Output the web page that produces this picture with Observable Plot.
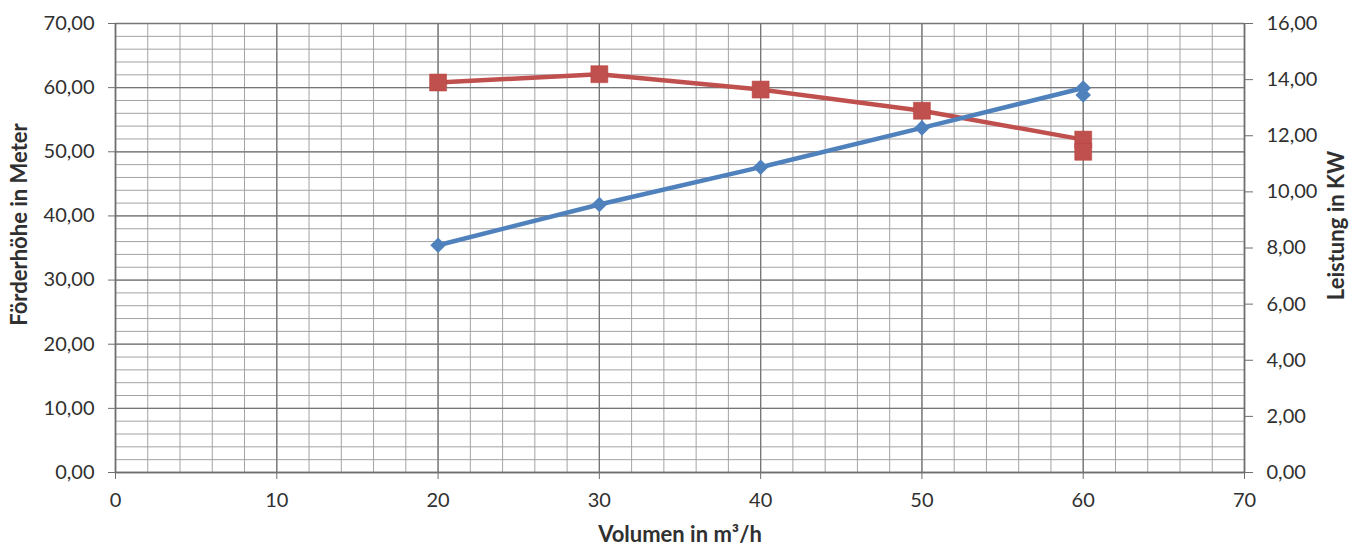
<!DOCTYPE html>
<html>
<head>
<meta charset="utf-8">
<script src="https://cdn.jsdelivr.net/npm/d3@7"></script>
<script src="https://cdn.jsdelivr.net/npm/@observablehq/plot@0.6"></script>
<style>
  html, body { margin: 0; padding: 0; background: #fff; }
  #chart { width: 1352px; height: 547px; }
</style>
</head>
<body>
<div id="chart"></div>
<script>
// Data
const volume = [20, 30, 40, 50, 60, 60];
const foerderhoehe = [60.8, 62.1, 59.7, 56.4, 51.9, 50.0];   // left axis (m)
const leistung = [8.1, 9.55, 10.88, 12.28, 13.7, 13.45];      // right axis (kW)

const xTicks = [0, 10, 20, 30, 40, 50, 60, 70];
const yLeftTicks = [0, 10, 20, 30, 40, 50, 60, 70];
const yRightTicks = [0, 2, 4, 6, 8, 10, 12, 14, 16];
const xMinor = d3.range(0, 70.001, 2);
const yMinor = d3.range(0, 70.001, 2);

const xTitle = "Volumen in m³/h";
const yLeftTitle = "Förderhöhe in Meter";
const yRightTitle = "Leistung in KW";

const k = 70 / 16; // right axis mapping onto left scale
const fmt = v => v.toFixed(2).replace(".", ",");

const redData = volume.map((v, i) => ({x: v, y: foerderhoehe[i]}));
const blueData = volume.map((v, i) => ({x: v, y: leistung[i] * k}));

const titleStyle = {fontWeight: "bold", fontSize: 22, fill: "#303030", textAnchor: "middle", lineAnchor: "middle"};

const chart = Plot.plot({
  width: 1352,
  height: 547,
  marginLeft: 115,
  marginRight: 108,
  marginTop: 23,
  marginBottom: 75,
  style: {fontFamily: "Lato, 'Open Sans', sans-serif", fontSize: "20px", color: "#303030", background: "#fff"},
  x: {domain: [0, 70]},
  y: {domain: [0, 70]},
  marks: [
    Plot.ruleX(xMinor, {stroke: "#a3a3a3", strokeWidth: 1}),
    Plot.ruleY(yMinor, {stroke: "#a3a3a3", strokeWidth: 1}),
    Plot.ruleX(xTicks, {stroke: "#767676", strokeWidth: 1.3}),
    Plot.ruleY(yLeftTicks, {stroke: "#767676", strokeWidth: 1.3}),
    Plot.ruleX([0, 70], {stroke: "#6e6e6e", strokeWidth: 1.6}),
    Plot.ruleY([0], {stroke: "#6e6e6e", strokeWidth: 1.6}),
    Plot.axisX({ticks: xTicks, tickSize: 7, tickPadding: 13, tickFormat: d => String(d), label: null, stroke: "#6e6e6e"}),
    Plot.axisY({anchor: "left", ticks: yLeftTicks, tickSize: 7, tickPadding: 14, tickFormat: fmt, label: null, stroke: "#6e6e6e"}),
    Plot.axisY({anchor: "right", ticks: yRightTicks.map(v => v * k), tickSize: 8, tickPadding: 14, tickFormat: d => fmt(d / k), label: null, stroke: "#6e6e6e"}),
    Plot.line(redData, {x: "x", y: "y", stroke: "#C0504D", strokeWidth: 4.5}),
    Plot.dot(redData, {x: "x", y: "y", symbol: "square", r: 9.6, fill: "#C0504D", stroke: "#b8403d", strokeWidth: 0.5}),
    Plot.line(blueData, {x: "x", y: "y", stroke: "#4F81BD", strokeWidth: 4.5}),
    Plot.dot(blueData, {x: "x", y: "y", symbol: "diamond2", r: 7, fill: "#4F81BD"}),
    Plot.text([xTitle], {frameAnchor: "bottom", dy: 62, text: d => d, ...titleStyle}),
    Plot.text([yLeftTitle], {frameAnchor: "left", dx: -96, dy: -23.5, rotate: -90, text: d => d, ...titleStyle}),
    Plot.text([yRightTitle], {frameAnchor: "right", dx: 92, dy: -22.5, rotate: -90, text: d => d, ...titleStyle})
  ]
});
document.getElementById("chart").appendChild(chart);
</script>
</body>
</html>
